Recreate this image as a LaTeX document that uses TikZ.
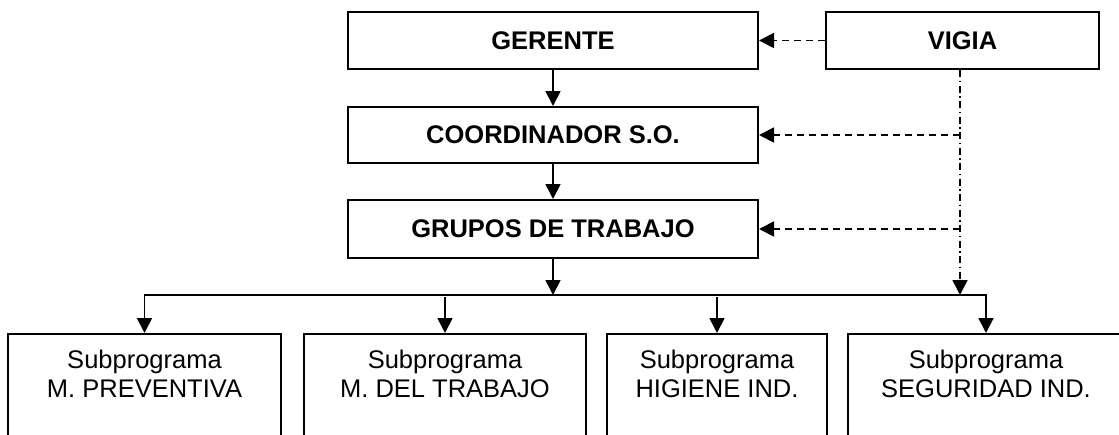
\documentclass[tikz,border=0pt]{standalone}
\usepackage{fontspec}
\setmainfont{Liberation Sans}
\usetikzlibrary{arrows.meta,positioning,calc}
\tikzset{>={Triangle[length=15pt,width=15pt]}}

\begin{document}
\begin{tikzpicture}[x=1pt,y=1pt,
		caja/.style={draw,line width=2pt,inner sep=0pt,font=\fontsize{25.5}{29}\selectfont\bfseries},
		subcaja/.style={draw,line width=2pt,inner sep=0pt,anchor=north,minimum height=140pt},
		subtexto/.style={align=center,inner sep=0pt,font=\fontsize{25.5}{29}\selectfont},
		linea/.style={line width=1.8pt},
		guion/.style={line width=1.8pt,dash pattern=on 7.5pt off 4.5pt},
		punteo/.style={line width=1.6pt,dash pattern=on 7pt off 3.5pt on 1.5pt off 3.5pt}]
		\useasboundingbox (0,0) rectangle (1119,-434);
		\def \ytop{-333};
		% mando
		\node[caja,minimum width=410pt,minimum height=57pt] (gerente) at (553,-40.5) {GERENTE};
		\node[caja,minimum width=273pt,minimum height=57pt] (vigia) at (962.5,-40.5) {VIGIA};
		\node[caja,minimum width=410pt,minimum height=56pt] (coord) at (553,-135) {COORDINADOR S.O.};
		\node[caja,minimum width=410pt,minimum height=58pt] (grupos) at (553,-229) {GRUPOS DE TRABAJO};
		% subprogramas
		\node[subcaja,minimum width=273pt] (sp1) at (144.5,\ytop) {};
		\node[subcaja,minimum width=282pt] (sp2) at (445,\ytop) {};
		\node[subcaja,minimum width=220pt] (sp3) at (717,\ytop) {};
		\node[subcaja,minimum width=276pt] (sp4) at (986,\ytop) {};
		\node[subtexto,below=17pt of sp1.north] (t1) {Subprograma\\M. PREVENTIVA};
		\node[subtexto,below=17pt of sp2.north] (t2) {Subprograma\\M. DEL TRABAJO};
		\node[subtexto,below=17pt of sp3.north] (t3) {Subprograma\\HIGIENE IND.};
		\node[subtexto,below=17pt of sp4.north] (t4) {Subprograma\\SEGURIDAD IND.};
		\coordinate (bus) at (553,-295);
		\coordinate (eje) at (960,-295);
		% lineas
		\draw[linea,->] (gerente) -- (coord);
		\draw[linea,->] (coord) -- (grupos);
		\draw[linea,->] (grupos) -- (bus);
		\draw[linea,->] (bus) -| (sp1.north);
		\draw[linea,->] (bus) -| (sp4.north);
		\draw[linea,->] ($(sp2.north |- bus)+(0,-2)$) -- (sp2.north);
		\draw[linea,->] ($(sp3.north |- bus)+(0,-2)$) -- (sp3.north);
		% vigia
		\draw[guion,->] (vigia) -- (gerente);
		\draw[punteo,->] (vigia.south -| eje) -- (eje);
		\draw[guion,->] (eje |- coord) -- (coord.east);
		\draw[guion,->] (eje |- grupos) -- (grupos.east);
	\end{tikzpicture}
\end{document}
